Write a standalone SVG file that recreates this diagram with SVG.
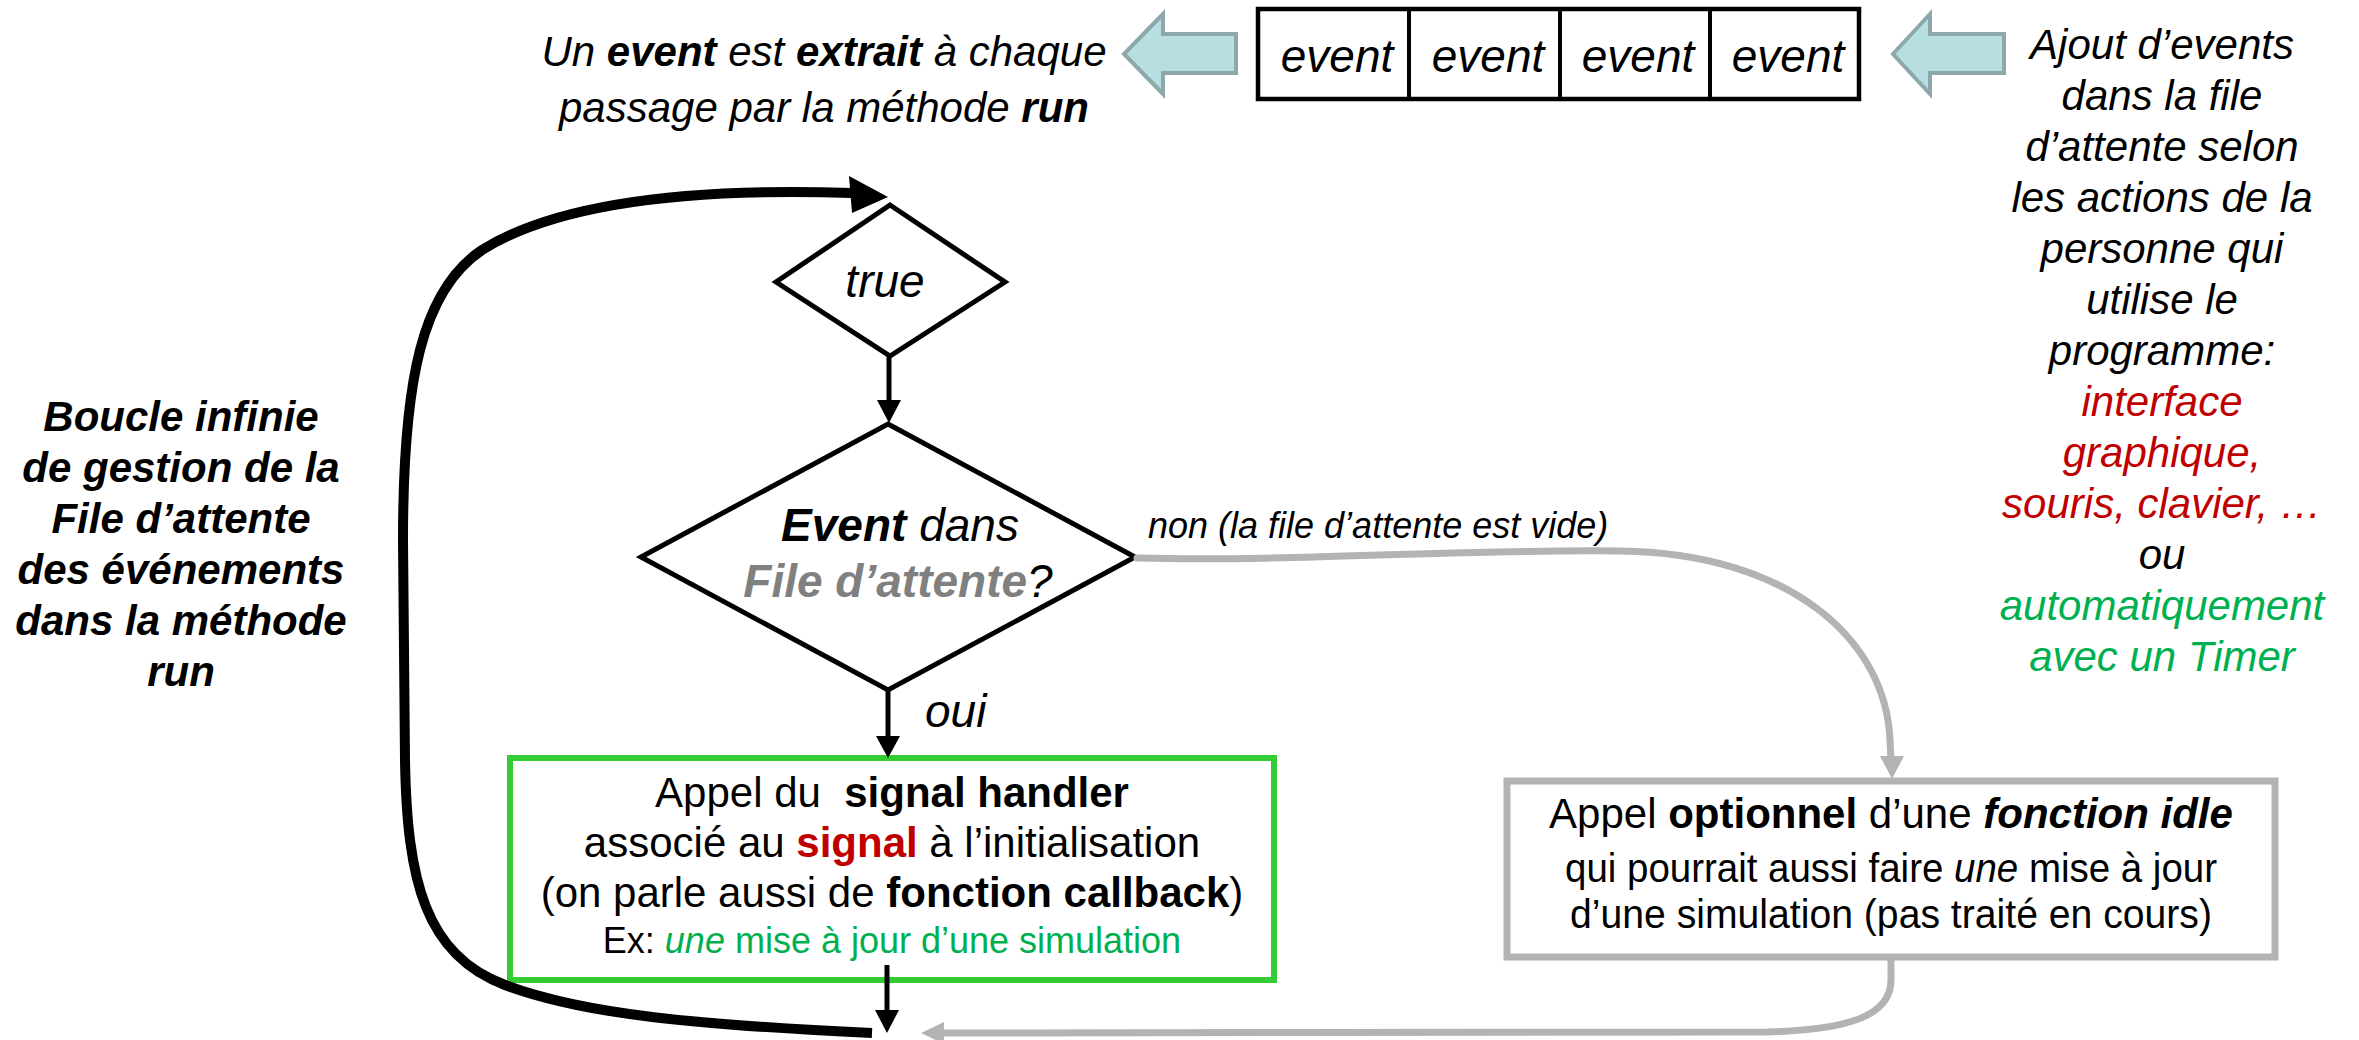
<svg xmlns="http://www.w3.org/2000/svg" width="2359" height="1040" viewBox="0 0 2359 1040">
  <defs>
    <style>
      text { font-family: "Liberation Sans", Arial, sans-serif; fill: #000; }
      .i { font-style: italic; }
      .b { font-weight: bold; }
      .bi { font-style: italic; font-weight: bold; }
      .mid { text-anchor: middle; }
      .red { fill: #c00000; }
      .grn { fill: #00b050; }
      .gry { fill: #808080; }
      .outline { fill: #fff; stroke: #000; stroke-width: 5; stroke-linejoin: miter; }
      .blk { stroke: #000; stroke-width: 5; fill: none; }
      .gline { stroke: #b3b3b3; stroke-width: 7; fill: none; stroke-linecap: round; }
      .blockarrow { fill: #b7dfe1; stroke: #8ea7aa; stroke-width: 4; stroke-linejoin: miter; }
    </style>
  </defs>

  <rect width="2359" height="1040" fill="#fff"/>

  <!-- event queue -->
  <g id="queue">
    <rect x="1258" y="9" width="601" height="90" fill="#fff" stroke="#000" stroke-width="4.5"/>
    <line x1="1409" y1="9" x2="1409" y2="99" stroke="#000" stroke-width="4"/>
    <line x1="1560" y1="9" x2="1560" y2="99" stroke="#000" stroke-width="4"/>
    <line x1="1710" y1="9" x2="1710" y2="99" stroke="#000" stroke-width="4"/>
    <g class="i" font-size="46">
      <text class="mid" x="1337" y="72">event</text>
      <text class="mid" x="1488" y="72">event</text>
      <text class="mid" x="1638" y="72">event</text>
      <text class="mid" x="1788" y="72">event</text>
    </g>
  </g>

  <!-- block arrows beside the queue -->
  <g id="arrow-out">
    <polygon class="blockarrow" points="1124,54 1163,14 1163,34 1236,34 1236,73 1163,73 1163,94"/>
  </g>
  <g id="arrow-in">
    <polygon class="blockarrow" points="1893,54 1930,14 1930,34 2004,34 2004,73 1930,73 1930,94"/>
  </g>

  <!-- note: extraction -->
  <g id="note-extract" font-size="42" class="i">
    <text class="mid" x="824" y="66">Un <tspan class="b">event</tspan> est <tspan class="b">extrait</tspan> à chaque</text>
    <text class="mid" x="824" y="122">passage par la méthode <tspan class="b">run</tspan></text>
  </g>

  <!-- note: sources of events -->
  <g id="note-sources" font-size="42" class="i">
    <text class="mid" x="2162" y="59">Ajout d’events</text>
    <text class="mid" x="2162" y="110">dans la file</text>
    <text class="mid" x="2162" y="161">d’attente selon</text>
    <text class="mid" x="2162" y="212">les actions de la</text>
    <text class="mid" x="2162" y="263">personne qui</text>
    <text class="mid" x="2162" y="314">utilise le</text>
    <text class="mid" x="2162" y="365">programme:</text>
    <text class="mid red" x="2162" y="416">interface</text>
    <text class="mid red" x="2162" y="467">graphique,</text>
    <text class="mid red" x="2162" y="518">souris, clavier, …</text>
    <text class="mid" x="2162" y="569">ou</text>
    <text class="mid grn" x="2162" y="620">automatiquement</text>
    <text class="mid grn" x="2162" y="671">avec un Timer</text>
  </g>

  <!-- note: loop -->
  <g id="note-loop" font-size="42" class="bi">
    <text class="mid" x="181" y="431">Boucle infinie</text>
    <text class="mid" x="181" y="482">de gestion de la</text>
    <text class="mid" x="181" y="533">File d’attente</text>
    <text class="mid" x="181" y="584">des événements</text>
    <text class="mid" x="181" y="635">dans la méthode</text>
    <text class="mid" x="181" y="686">run</text>
  </g>

  <!-- decision: true -->
  <g id="decision-true">
    <polygon class="outline" points="890,205 1005,282 890,356 776,282"/>
    <text class="mid i" x="885" y="297" font-size="46">true</text>
  </g>

  <!-- decision: event in queue -->
  <g id="decision-event">
    <polygon class="outline" points="888,424 1135,557 888,690 641,557"/>
    <text class="mid" x="900" y="541" font-size="46"><tspan class="bi">Event</tspan><tspan class="i"> dans</tspan></text>
    <text class="mid" x="898" y="597" font-size="46"><tspan class="bi gry">File d’attente</tspan><tspan class="i">?</tspan></text>
  </g>

  <!-- process: signal handler -->
  <g id="handler">
    <rect x="510" y="758" width="764" height="222" fill="#fff" stroke="#33cc33" stroke-width="6"/>
    <g font-size="42">
      <text class="mid" x="892" y="807">Appel du &#160;<tspan class="b">signal handler</tspan></text>
      <text class="mid" x="892" y="857">associé au <tspan class="b red">signal</tspan> à l’initialisation</text>
      <text class="mid" x="892" y="907">(on parle aussi de <tspan class="b">fonction callback</tspan>)</text>
    </g>
    <text class="mid" x="892" y="953" font-size="36">Ex: <tspan class="i grn">une</tspan><tspan class="grn"> mise à jour d’une simulation</tspan></text>
  </g>

  <!-- process: idle function -->
  <g id="idle">
    <rect x="1507" y="781" width="768" height="176" fill="#fff" stroke="#b3b3b3" stroke-width="7"/>
    <text class="mid" x="1891" y="828" font-size="42">Appel <tspan class="b">optionnel</tspan> d’une <tspan class="bi">fonction idle</tspan></text>
    <text class="mid" x="1891" y="882" font-size="40" textLength="652" lengthAdjust="spacingAndGlyphs">qui pourrait aussi faire <tspan class="i">une</tspan> mise à jour</text>
    <text class="mid" x="1891" y="928" font-size="40" textLength="642" lengthAdjust="spacingAndGlyphs">d’une simulation (pas traité en cours)</text>
  </g>

  <!-- connectors -->
  <g id="connectors">
    <!-- infinite loop back to the top -->
    <path d="M872,1033 C700,1025 585,1015 505,985 C425,955 407,880 405,760 L403,540 C403,380 422,290 482,250 C562,200 700,188 852,193" stroke="#000" stroke-width="10" fill="none"/>
    <polygon points="888,197 849,176 852,213" fill="#000"/>

    <!-- true -> event in queue -->
    <line class="blk" x1="889" y1="356" x2="889" y2="404"/>
    <polygon points="889,423 877,400 901,400" fill="#000"/>

    <!-- oui -> handler -->
    <line class="blk" x1="888" y1="690" x2="888" y2="740"/>
    <polygon points="888,758 876,736 900,736" fill="#000"/>
    <text class="i" x="925" y="727" font-size="46">oui</text>

    <!-- handler -> back to loop -->
    <line class="blk" x1="887" y1="965" x2="887" y2="1014"/>
    <polygon points="887,1033 875,1010 899,1010" fill="#000"/>

    <!-- non -> idle -->
    <path class="gline" d="M1137,558 C1300,562 1450,549 1620,551 C1790,553 1886,640 1890,740 L1891,760"/>
    <polygon points="1892,779 1880,756 1904,756" fill="#b3b3b3"/>
    <text class="i" x="1148" y="538" font-size="36">non (la file d’attente est vide)</text>

    <!-- idle -> back to loop -->
    <path class="gline" d="M1891,961 L1891,980 C1891,1015 1850,1030 1767,1032 L942,1033"/>
    <polygon points="921,1033 944,1022 944,1044" fill="#b3b3b3"/>
  </g>
</svg>
